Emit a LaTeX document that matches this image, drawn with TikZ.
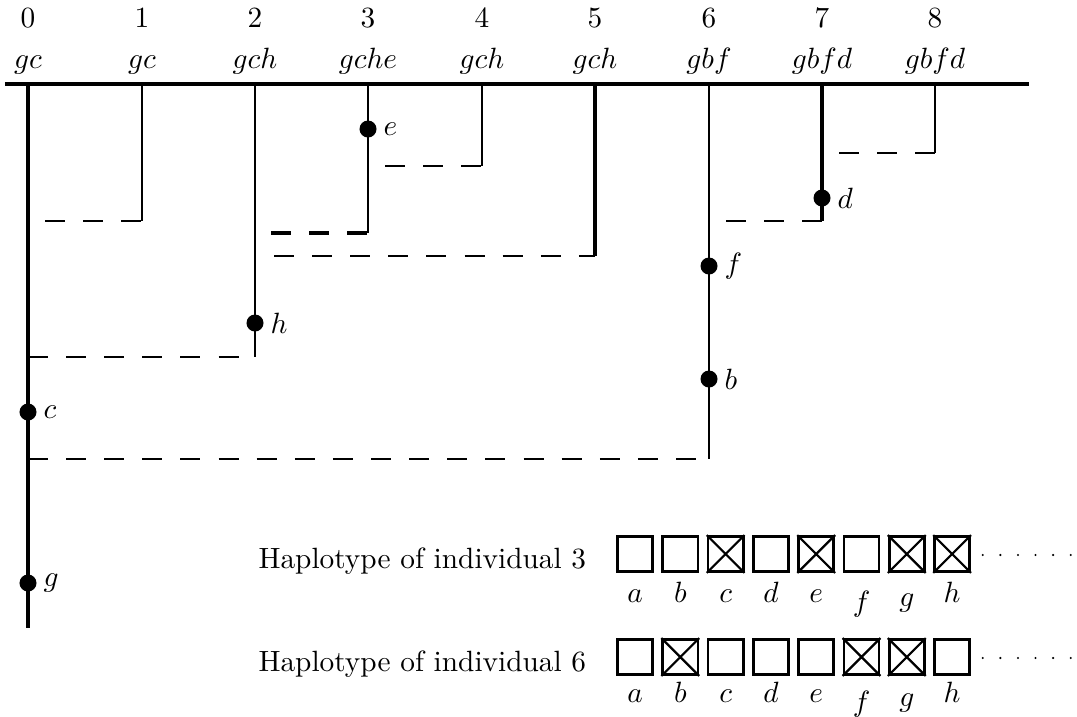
\documentclass[tikz,border=0pt]{standalone}
\usepackage{tikz}
\usepackage{mathtools}

\tikzset{
  lin/.style={line width=0.75pt},
  linthick/.style={line width=1.1pt},
  mig/.style={line width=0.8pt, dash pattern=on 6.8pt off 6.2pt},
  migthick/.style={line width=1.1pt, dash pattern=on 6.8pt off 6.2pt},
  mut/.style={circle, fill, inner sep=0pt, minimum size=5.8pt},
  allele/.style={draw, line width=0.9pt, minimum size=12pt, inner sep=0pt},
  dotline/.style={line width=0.8pt, dash pattern=on 0pt off 6pt, line cap=round},
}

\begin{document}
\begin{tikzpicture}[x=0.341pt, y=-0.341pt]
	\useasboundingbox (0,0) rectangle (1077,716);
	\begin{scope}
	% individuals and their haplotypes
	\foreach \i/\x/\s in {0/28/gc, 1/142/gc, 2/255/gch, 3/368/gche, 4/482/gch,
	                      5/595/gch, 6/709/gbf, 7/822/gbfd, 8/935/gbfd} {
		\node[anchor=base] (n\i) at (\x, 27) {$\i$};
		\node[anchor=base] (s\i) at (\x, 68) {$\s$};
		\coordinate (t\i) at (\x, 84);
	}
	\coordinate (left) at (5, 84);
	\coordinate (right) at (1029, 84);
	\draw[linthick] (left) -- (right);

	% lineages
	\coordinate (b0) at (28, 628);
	\coordinate (b1) at (142, 221);
	\coordinate (b2) at (255, 357);
	\coordinate (b3) at (368, 233);
	\coordinate (b4) at (482, 166);
	\coordinate (b5) at (595, 256);
	\coordinate (b6) at (709, 459);
	\coordinate (b7) at (822, 221);
	\coordinate (b8) at (935, 153);
	\draw[linthick] (t0) -- (b0);
	\draw[lin] (t1) -- (b1);
	\draw[lin] (t2) -- (b2);
	\draw[lin] (t3) -- (b3);
	\draw[lin] (t4) -- (b4);
	\draw[linthick] (t5) -- (b5);
	\draw[lin] (t6) -- (b6);
	\draw[linthick] (t7) -- (b7);
	\draw[lin] (t8) -- (b8);

	% coalescences
	\coordinate (d1) at (45, 221);
	\coordinate (d2) at (28, 357);
	\coordinate (d3) at (271, 233);
	\coordinate (d4) at (385, 166);
	\coordinate (d5) at (274, 256);
	\coordinate (d6) at (28, 459);
	\coordinate (d7) at (726, 221);
	\coordinate (d8) at (839, 153);
	\draw[mig] (d1) -- (b1);
	\draw[mig] (d2) -- (b2);
	\draw[migthick] (d3) -- (b3);
	\draw[mig] (d4) -- (b4);
	\draw[mig] (d5) -- (b5);
	\draw[mig] (d6) -- (b6);
	\draw[mig] (d7) -- (b7);
	\draw[mig] (d8) -- (b8);

	% mutations
	\node[mut, label={[inner sep=2pt]right:$e$}] (me) at (368, 129) {};
	\node[mut, label={[inner sep=2pt]right:$d$}] (md) at (822, 198) {};
	\node[mut, label={[inner sep=2pt]right:$f$}] (mf) at (709, 266) {};
	\node[mut, label={[inner sep=2pt]right:$h$}] (mh) at (255, 323) {};
	\node[mut, label={[inner sep=2pt]right:$b$}] (mb) at (709, 379) {};
	\node[mut, label={[inner sep=2pt]right:$c$}] (mc) at (28, 412) {};
	\node[mut, label={[inner sep=2pt]right:$g$}] (mg) at (28, 583) {};

	% haplotypes
	\node[anchor=base west, inner sep=0pt] (hap3) at (258, 568) {Haplotype of individual 3};
	\node[anchor=base west, inner sep=0pt] (hap6) at (258, 671) {Haplotype of individual 6};
	\foreach \k/\a/\p/\q/\dy in {1/a/0/0/0, 2/b/0/1/0, 3/c/1/0/0, 4/d/0/0/0, 5/e/1/0/0,
	                             6/f/0/1/9, 7/g/1/1/4, 8/h/1/0/0} {
		\node[allele] (x3\k) at (589.7+45.3*\k, 554) {};
		\node[allele] (x6\k) at (589.7+45.3*\k, 657) {};
		\node[anchor=base] (y3\k) at (589.7+45.3*\k, 602+\dy) {$\a$};
		\node[anchor=base] (y6\k) at (589.7+45.3*\k, 702+\dy) {$\a$};
		\ifnum\p=1
			\draw[lin] (x3\k.north west) -- (x3\k.south east) (x3\k.north east) -- (x3\k.south west);
		\fi
		\ifnum\q=1
			\draw[lin] (x6\k.north west) -- (x6\k.south east) (x6\k.north east) -- (x6\k.south west);
		\fi
	}
	\coordinate (e3) at (1075, 555);
	\coordinate (e6) at (1075, 658);
	\draw[dotline, shorten <=4pt] (x38.east |- e3) -- (e3);
	\draw[dotline, shorten <=4pt] (x68.east |- e6) -- (e6);
	\end{scope}
\end{tikzpicture}
\end{document}
